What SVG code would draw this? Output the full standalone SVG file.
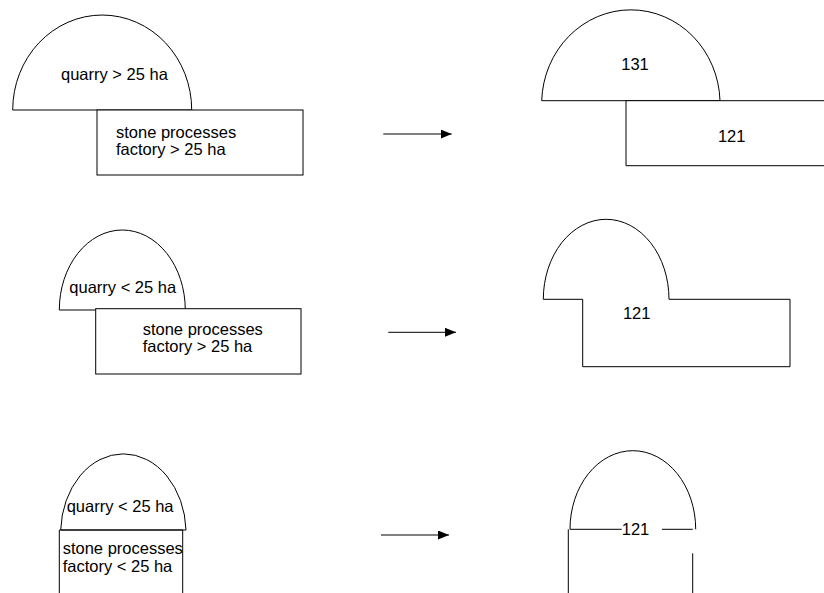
<svg xmlns="http://www.w3.org/2000/svg" width="824" height="593" viewBox="0 0 824 593">
<defs>
<style>
.s{fill:#fff;stroke:#000;stroke-width:1}
.o{fill:none;stroke:#000;stroke-width:1}
text{font-family:"Liberation Sans",Arial,sans-serif;font-size:16.5px;fill:#000}
.c{text-anchor:middle}
</style>
<marker id="ah" markerWidth="12" markerHeight="10" refX="11" refY="4.5" orient="auto" markerUnits="userSpaceOnUse">
<path d="M0,0 L11,4.5 L0,9 Z" fill="#000"/>
</marker>
</defs>
<rect width="824" height="593" fill="#fff"/>

<g id="quarry1">
<path class="s" d="M12.7,110 A89.5,95 0 0 1 191.7,110 Z"/>
<text x="61" y="80">quarry &gt; 25 ha</text>
</g>
<g id="factory1">
<rect class="s" x="97" y="110" width="206" height="65"/>
<text x="116" y="138.3">stone processes</text>
<text x="116" y="155">factory &gt; 25 ha</text>
</g>

<g id="quarry2">
<path class="s" d="M59.3,310 A63,80 0 0 1 185.3,310 Z"/>
<text x="69.3" y="293.3">quarry &lt; 25 ha</text>
</g>
<g id="factory2">
<rect class="s" x="95.7" y="308.7" width="205.3" height="65.3"/>
<text x="142.7" y="335">stone processes</text>
<text x="142.7" y="352.3">factory &gt; 25 ha</text>
</g>

<g id="quarry3">
<path class="s" d="M60.7,530 A62.7,79.3 0 0 1 186,530 Z"/>
<text x="66.7" y="511.7">quarry &lt; 25 ha</text>
</g>
<g id="factory3">
<path class="o" d="M59.3,600 L59.3,530 L182.7,530 L182.7,600"/>
<text x="62.7" y="554.3">stone processes</text>
<text x="62.7" y="571.7">factory &lt; 25 ha</text>
</g>

<g id="result131">
<path class="s" d="M541.7,100.7 A89.2,94 0 0 1 720,100.7 Z"/>
<text class="c" x="635" y="70">131</text>
</g>
<g id="result121a">
<path class="s" d="M626,100.7 L830,100.7 L830,165.7 L626,165.7 Z"/>
<text class="c" x="731.7" y="141.7">121</text>
</g>

<g id="result121b">
<path class="s" d="M543.3,299.3 A62.85,80 0 0 1 669,299.3 L790,299.3 L790,366.7 L582.7,366.7 L582.7,299.3 Z"/>
<text class="c" x="636.7" y="319">121</text>
</g>

<g id="result121c">
<path class="o" d="M570,529.3 A62.85,78.6 0 0 1 695.7,529.3"/>
<path class="o" d="M570,529.3 L621.7,529.3 M662,529.3 L692.7,529.3"/>
<path class="o" d="M568.3,529.3 L568.3,600 M692.7,553.3 L692.7,600"/>
<text class="c" x="635.5" y="534.5">121</text>
</g>

<g id="connectors">
<line class="o" x1="383.3" y1="134" x2="451.7" y2="134" marker-end="url(#ah)"/>
<line class="o" x1="388.3" y1="332.3" x2="456" y2="332.3" marker-end="url(#ah)"/>
<line class="o" x1="381" y1="535" x2="449" y2="535" marker-end="url(#ah)"/>
</g>
</svg>
